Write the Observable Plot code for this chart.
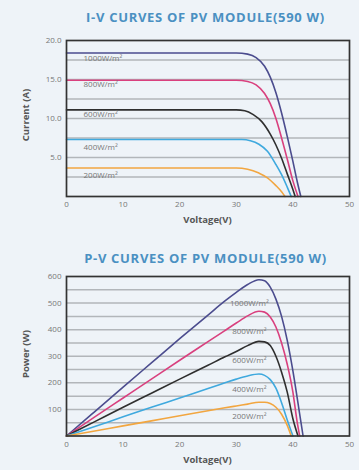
<!DOCTYPE html>
<html><head><meta charset="utf-8">
<script src="https://cdn.jsdelivr.net/npm/d3@7"></script>
<script src="https://cdn.jsdelivr.net/npm/@observablehq/plot@0.6"></script>
<style>
html,body{margin:0;padding:0;background:#eef3f8;}
#wrap{position:relative;width:359px;height:470px;background:#eef3f8;font-family:"Open Sans",Lato,sans-serif;overflow:hidden;}
.title{position:absolute;left:0;width:359px;text-align:center;padding-left:52px;box-sizing:border-box;font-family:"Open Sans",sans-serif;font-weight:700;font-size:13px;color:#4a90c2;letter-spacing:0.7px;line-height:18px;}
.xt{position:absolute;left:66px;width:283px;text-align:center;font-weight:700;font-size:9.5px;color:#555;line-height:12px;}
.yt{position:absolute;font-weight:700;font-size:9.5px;color:#555;transform:rotate(-90deg);transform-origin:center;white-space:nowrap;line-height:12px;}
.chart{position:absolute;left:0;}
</style></head>
<body><div id="wrap">
<div class="title" style="top:8px">I-V CURVES OF PV MODULE(590 W)</div>
<div class="title" style="top:249px">P-V CURVES OF PV MODULE(590 W)</div>
<div class="chart" id="c1" style="top:30px"></div>
<div class="chart" id="c2" style="top:266px"></div>
<div class="xt" style="top:214px">Voltage(V)</div>
<div class="xt" style="top:454px">Voltage(V)</div>
<div class="yt" style="left:-4px;top:109px;width:60px;text-align:center">Current (A)</div>
<div class="yt" style="left:-4px;top:348px;width:60px;text-align:center">Power (W)</div>
</div>
<script>
// Series names and colours
const series = ["1000W/m²", "800W/m²", "600W/m²", "400W/m²", "200W/m²"];
const colors = ["#4b4c8e", "#d9407e", "#2f2f2f", "#3fa9de", "#f2a640"];

// I-V curves: [voltage, current]
const iv1000 = [[0,18.4],[30,18.4],[32,18.25],[33.5,17.8],[35,16.7],[36,15.3],[37,13.3],[38,10.7],[39,7.7],[40,4.5],[40.8,1.8],[41.4,0]];
const iv800  = [[0,14.9],[30,14.9],[32,14.75],[33.5,14.3],[35,13.2],[36,11.9],[37,10.0],[38,7.5],[39,4.8],[40,2.0],[40.9,0]];
const iv600  = [[0,11.1],[30,11.1],[31.5,11.0],[33,10.5],[34.5,9.6],[36,8.0],[37,6.6],[38,4.9],[39,2.9],[40,0.9],[40.4,0]];
const iv400  = [[0,7.3],[31,7.3],[32.5,7.15],[34,6.7],[35.5,5.8],[37,4.1],[38,2.8],[39,1.2],[39.7,0]];
const iv200  = [[0,3.65],[30,3.65],[32,3.5],[34,3.0],[35.5,2.4],[37,1.4],[38,0.6],[38.6,0]];

// P-V curves: [voltage, power]
const pv1000 = [[0,0],[5,92],[10,184],[15,275],[20,366],[25,455],[28,508],[30,540],[32,570],[34,588],[35,584],[36,560],[37,515],[38,450],[39,360],[40,245],[41,110],[41.8,0]];
const pv800  = [[0,0],[5,72],[10,143],[15,214],[20,285],[25,355],[28,397],[30,425],[32,452],[34,469],[35,466],[36,448],[37,410],[38,350],[39,270],[40,165],[40.7,60],[41.2,0]];
const pv600  = [[0,0],[5,54],[10,108],[15,161],[20,214],[25,266],[28,298],[30,318],[32,340],[34,356],[35,354],[36,340],[37,300],[38,240],[39,165],[40,65],[40.9,0]];
const pv400  = [[0,0],[5,36],[10,72],[15,108],[20,143],[25,179],[28,200],[30,214],[32,226],[34,233],[35,228],[36,212],[37,180],[38,125],[39,60],[40,0]];
const pv200  = [[0,0],[5,19],[10,38],[15,57],[20,76],[25,95],[28,106],[30,113],[32,120],[34,127],[35,127],[36,122],[37,108],[38,82],[39,40],[39.7,0]];

// Label anchor positions: [voltage, value]
const ivLabelPos = [[3,17.7],[3,14.4],[3,10.5],[3,6.3],[3,2.7]];
const pvLabelPos = [[32.3,498],[32.3,392],[32.3,283],[32.3,176],[32.3,73]];

// Ticks
const xTicks = [0,10,20,30,40,50];
const iTicks = [5,10,15,20];
const iGrid = [2.5,5,7.5,10,12.5,15,17.5];
const pTicks = [100,200,300,400,500,600];
const pGrid = [50,100,150,200,250,300,350,400,450,500,550];

const ivSets = [iv1000, iv800, iv600, iv400, iv200];
const pvSets = [pv1000, pv800, pv600, pv400, pv200];

const ivData = ivSets.flatMap((s, k) => s.map(([v, y]) => ({v, y, s: series[k]})));
const pvData = pvSets.flatMap((s, k) => s.map(([v, y]) => ({v, y, s: series[k]})));
const ivLabels = ivLabelPos.map(([v, y], k) => ({v, y, t: series[k]}));
const pvLabels = pvLabelPos.map(([v, y], k) => ({v, y, t: series[k]}));

function chart(data, labels, yDomain, yTicks, grid, fmt, labelAnchor, height, plotH) {
  return Plot.plot({
    width: 359, height,
    marginLeft: 66, marginRight: 10, marginTop: 10, marginBottom: height - 10 - plotH,
    style: {background: "transparent", fontFamily: "'Open Sans', sans-serif", fontSize: "8px", color: "#666"},
    x: {domain: [0, 50], ticks: xTicks},
    y: {domain: yDomain},
    color: {domain: series, range: colors},
    marks: [
      Plot.gridY(grid, {stroke: "#b2b6ba", strokeOpacity: 1, strokeWidth: 1.5}),
      Plot.line(data, {x: "v", y: "y", z: "s", stroke: "s", strokeWidth: 1.6, curve: "monotone-x"}),
      Plot.text(labels, {x: "v", y: "y", text: "t", textAnchor: labelAnchor, fill: "#777", fontSize: 8}),
      Plot.frame({stroke: "#333", strokeWidth: 1.7}),
      Plot.axisX({ticks: xTicks, tickSize: 0, tickPadding: 5, label: null, tickFormat: d => d, fill: "#777", fontSize: 8}),
      Plot.axisY({ticks: yTicks, tickSize: 0, tickPadding: 5, label: null, tickFormat: fmt, fill: "#777", fontSize: 8})
    ]
  });
}

document.getElementById("c1").append(chart(ivData, ivLabels, [0, 20], iTicks, iGrid, d => d.toFixed(1), "start", 196, 156));
document.getElementById("c2").append(chart(pvData, pvLabels, [0, 600], pTicks, pGrid, d => d, "middle", 200, 159.5));
</script>
</body></html>
